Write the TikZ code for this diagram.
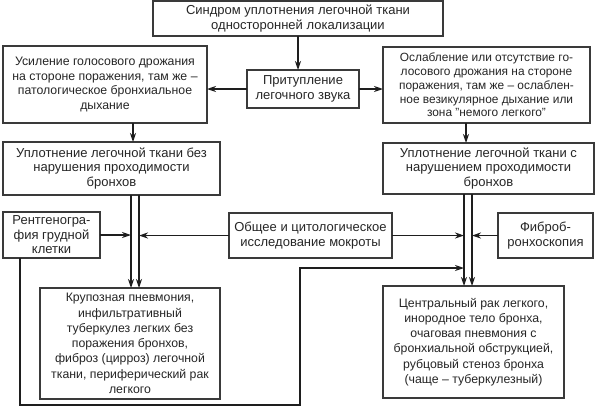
\documentclass[tikz,border=0pt]{standalone}
\usepackage{fontspec}
\setmainfont{Liberation Sans}
\usetikzlibrary{arrows.meta,calc}
\definecolor{boxc}{HTML}{3A3A3A}
\definecolor{txtc}{HTML}{262626}
\definecolor{linec}{HTML}{1E1E1E}
\begin{document}
\begin{tikzpicture}[x=1pt,y=-1pt,
  box/.style={draw=boxc, line width=1.3pt, inner sep=0pt, outer sep=0pt, align=center,
    text=txtc, font=\fontsize{13}{14.5}\selectfont},
  fa/.style={font=\fontsize{12.3}{14.5}\selectfont},
  fb/.style={font=\fontsize{11.9}{13.8}\selectfont},
  fc/.style={font=\fontsize{12.3}{15.3}\selectfont},
  fd/.style={font=\fontsize{13}{15}\selectfont},
  arr/.style={draw=linec, line width=1.2pt, -{Stealth[length=9pt,width=6pt]}},
  ln/.style={draw=linec, line width=1.2pt}]
\useasboundingbox[fill=white] (0,0) rectangle (596,408);

\node[box, minimum width=290, minimum height=35] (top) at (298,18.5)
  {Синдром уплотнения легочной ткани\\односторонней локализации};
\node[box, fd, minimum width=112, minimum height=38] (prit) at (303,89)
  {Притупление\\легочного звука};
\node[box, fa, minimum width=204, minimum height=77] (left1) at (105,84.5)
  {Усиление голосового дрожания\\на стороне поражения, там же –\\патологическое бронхиальное\\дыхание};
\node[box, fb, minimum width=207, minimum height=76] (right1) at (486.5,85)
  {Ослабление или отсутствие го-\\лосового дрожания на стороне\\поражения, там же – ослаблен-\\ное везикулярное дыхание или\\зона "немого легкого"};
\node[box, minimum width=217, minimum height=53] (left2) at (111.5,168.5)
  {Уплотнение легочной ткани без\\нарушения проходимости\\бронхов};
\node[box, minimum width=211, minimum height=51] (right2) at (488.5,168.5)
  {Уплотнение легочной ткани с\\нарушением проходимости\\бронхов};
\node[box, minimum width=97, minimum height=46] (rent) at (51.5,235)
  {Рентгеногра-\\фия грудной\\клетки};
\node[box, fd, minimum width=163, minimum height=45] (obsh) at (310.5,235.5)
  {Общее и цитологическое\\исследование мокроты};
\node[box, fd, minimum width=95, minimum height=45] (fibro) at (545.5,235.5)
  {Фиброб-\\ронхоскопия};
\node[box, fc, minimum width=180, minimum height=111] (krup) at (130,343.5)
  {Крупозная пневмония,\\инфильтративный\\туберкулез легких без\\поражения бронхов,\\фиброз (цирроз) легочной\\ткани, периферический рак\\легкого};
\node[box, fc, minimum width=181, minimum height=112] (centr) at (473.5,342)
  {Центральный рак легкого,\\инородное тело бронха,\\очаговая пневмония с\\бронхиальной обструкцией,\\рубцовый стеноз бронха\\(чаще – туберкулезный)};

% upper arrows
\draw[arr] (top.south) -- (top.south |- prit.north);
\draw[arr] (prit.west) -- (left1.east |- prit.west);
\draw[arr] (prit.east) -- (right1.west |- prit.east);
\draw[arr] (133,0 |- left1.south) -- (133,0 |- left2.north);
\draw[arr] (466,0 |- right1.south) -- (466,0 |- right2.north);

% double lines
\draw[arr] (131,0 |- left2.south) -- (131,0 |- krup.north);
\draw[arr] (139,0 |- left2.south) -- (139,0 |- krup.north);
\draw[arr] (464,0 |- right2.south) -- (464,0 |- centr.north);
\draw[arr] (472,0 |- right2.south) -- (472,0 |- centr.north);

% side inputs
\draw[arr] (rent.east) -- (131,0 |- rent.east);
\draw[arr] (obsh.west) -- (139,0 |- obsh.west);
\draw[arr] (obsh.east) -- (464,0 |- obsh.east);
\draw[arr] (fibro.west) -- (472,0 |- fibro.west);

% long loop from radiography
\coordinate (rt) at (464,268);
\draw[arr] (20,0 |- rent.south) -- (20,405) -- (300,405) -- (300,268) -- (rt);
\end{tikzpicture}
\end{document}
